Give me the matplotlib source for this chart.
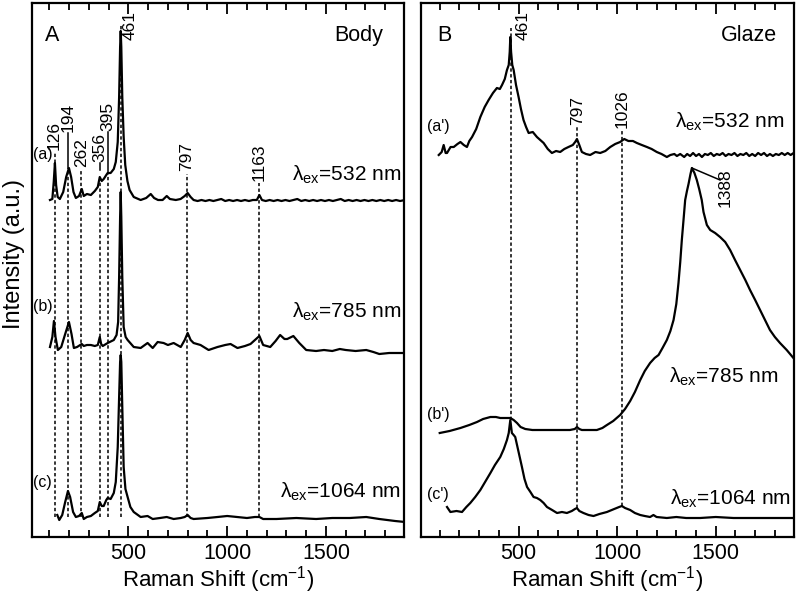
import matplotlib
matplotlib.use("Agg")
import matplotlib.pyplot as plt
from matplotlib.ticker import MultipleLocator

plt.rcParams['font.family'] = ['Liberation Sans', 'DejaVu Sans']
plt.rcParams['mathtext.fontset'] = 'custom'
plt.rcParams['mathtext.rm'] = 'Liberation Sans'
plt.rcParams['mathtext.it'] = 'Liberation Sans:italic'

# ---- panel A (body): Raman shift (cm-1), intensity (a.u., offset)
body_a_x = [103, 115, 122, 128, 134, 142, 153, 170, 185, 199, 210, 222, 234, 250, 264, 274, 290, 310,
            330, 345, 355, 365, 375, 388, 395, 410, 426, 436, 446, 453, 458, 461, 464, 469, 476, 484,
            495, 506, 527, 562, 590, 613, 630, 650, 673, 694, 710, 740, 764, 785, 800, 815, 830, 850,
            870, 890, 910, 930, 950, 970, 990, 1010, 1030, 1050, 1070, 1090, 1110, 1130, 1150, 1163,
            1176, 1195, 1215, 1235, 1255, 1275, 1295, 1315, 1335, 1355, 1375, 1395, 1415, 1435, 1455,
            1475, 1495, 1515, 1535, 1555, 1575, 1595, 1615, 1635, 1655, 1675, 1695, 1715, 1735, 1755,
            1775, 1795, 1815, 1835, 1855, 1875, 1900]
body_a_y = [337, 338, 355, 374, 352, 340, 338, 345, 360, 369, 360, 345, 339, 341, 348, 341, 343, 342,
            346, 350, 360, 356, 358, 362, 364, 364, 368, 375, 395, 440, 490, 506, 490, 440, 400, 372,
            356, 347, 340, 337, 339, 343, 339, 337, 337, 341, 338, 337, 338, 341, 344, 340, 337, 336,
            337, 336, 337, 336, 337, 338, 336, 337, 336, 337, 336, 337, 336, 337, 337, 342,
            337, 336, 337, 336, 337, 336, 337, 336, 337, 338, 336, 337, 336, 337, 336,
            337, 336, 337, 336, 337, 338, 336, 337, 336, 337, 336, 337, 336, 337, 336,
            337, 336, 337, 336, 337, 336, 337]

body_b_x = [103, 115, 123, 131, 143, 160, 180, 199, 212, 224, 240, 264, 274, 290, 310, 330, 345, 355,
            362, 370, 395, 426, 440, 448, 453, 458, 461, 464, 469, 476, 486, 496, 527, 562, 597, 623,
            648, 678, 700, 729, 765, 785, 800, 815, 830, 865, 906, 951, 990, 1017, 1052, 1090, 1118,
            1163, 1182, 1218, 1245, 1268, 1290, 1304, 1335, 1365, 1400, 1450, 1490, 1532, 1570, 1600,
            1650, 1704, 1740, 1770, 1820, 1871, 1900]
body_b_y = [190, 200, 216, 200, 187, 190, 203, 215, 203, 189, 190, 193, 191, 192, 192, 191, 192, 200,
            193, 191, 194, 197, 202, 215, 260, 320, 345, 320, 260, 210, 200, 197, 190, 189, 194, 189,
            195, 194, 192, 194, 190, 197, 204, 197, 194, 192, 187, 190, 192, 193, 189, 191, 193,
            201, 192, 190, 196, 202, 198, 198, 201, 194, 187, 186, 187, 186, 188, 187,
            186, 187, 185, 183, 184, 184, 184]

body_c_x = [140, 150, 165, 180, 194, 205, 220, 234, 250, 264, 274, 290, 310, 330, 345, 355, 365, 375,
            388, 395, 410, 426, 436, 446, 453, 458, 461, 464, 469, 476, 485, 496, 510, 527, 562, 597,
            623, 660, 694, 729, 765, 785, 800, 815, 830, 900, 951, 1000, 1050, 1100, 1140, 1163, 1182,
            1250, 1350, 1450, 1532, 1620, 1704, 1770, 1850, 1900]
body_c_y = [22, 17, 22, 35, 46, 40, 25, 20, 21, 24, 18, 20, 21, 24, 26, 35, 31, 31,
            37, 39, 38, 44, 55, 90, 140, 175, 182, 175, 130, 70, 48, 40, 30, 25, 20, 21,
            18, 19, 20, 18, 19, 20, 22, 19, 18, 19, 20, 21, 20, 19, 20, 20, 18,
            18, 19, 18, 19, 19, 20, 18, 16, 15]

body_peaks = [126, 194, 262, 356, 395, 461, 797, 1163]

# ---- panel B (glaze)
glaze_a_x = [95, 110, 120, 130, 137, 155, 171, 190, 205, 222, 238, 250, 264, 285, 306, 328, 348, 370,
             390, 405, 416, 430, 441, 450, 455, 458, 462, 468, 475, 487, 500, 512, 525, 538, 551, 572,
             593, 610, 627, 648, 669, 690, 711, 732, 753, 775, 787, 796, 808, 821, 842, 863, 890,
             914, 940, 965, 990, 1015, 1036, 1057, 1080, 1100, 1125, 1151, 1175, 1201, 1225, 1252,
             1270, 1290, 1303, 1320, 1340, 1355, 1370, 1385, 1400, 1415, 1430, 1445, 1460, 1475,
             1490, 1505, 1520, 1535, 1550, 1565, 1580, 1595, 1610, 1625, 1640, 1655, 1670, 1685,
             1700, 1715, 1730, 1745, 1760, 1775, 1790, 1805, 1820, 1835, 1850, 1865, 1880, 1895, 1911]
glaze_a_y = [382, 385, 392, 384, 384, 390, 390, 393, 395, 392, 390, 396, 400, 408, 420, 430, 437, 444,
             449, 448, 452, 458, 467, 472, 485, 500, 485, 472, 467, 452, 440, 428, 417, 410, 404, 405,
             400, 397, 394, 388, 384, 386, 385, 388, 390, 392, 395, 398, 392, 385, 383, 382, 385,
             384, 386, 390, 393, 395, 398, 396, 396, 394, 392, 390, 388, 385, 383, 380,
             382, 383, 381, 383, 380, 383, 381, 384, 381, 383, 380, 383, 382, 384,
             381, 383, 382, 384, 381, 383, 382, 384, 381, 383, 382, 384, 381, 383,
             381, 384, 382, 384, 381, 383, 381, 383, 382, 384, 382, 384, 382, 384, 384]

glaze_b_x = [100, 150, 205, 250, 289, 320, 357, 385, 407, 430, 458, 475, 492, 510, 534, 570, 610, 660,
             711, 760, 785, 796, 808, 821, 860, 897, 925, 948, 980, 1015, 1040, 1066, 1090, 1117, 1140,
             1167, 1190, 1210, 1230, 1252, 1270, 1286, 1300, 1311, 1320, 1328, 1337, 1345, 1354, 1362,
             1372, 1379, 1392, 1404, 1416, 1429, 1438, 1455, 1472, 1497, 1522, 1548, 1573, 1598,
             1624, 1650, 1674, 1700, 1725, 1750, 1775, 1800, 1826, 1860, 1894]
glaze_b_y = [104, 106, 109, 112, 115, 118, 120, 120, 119, 119, 119, 117, 114, 110, 108, 107, 107, 107,
             107, 107, 108, 110, 108, 107, 107, 107, 109, 112, 116, 122, 128, 136, 145, 157, 166,
             174, 179, 182, 189, 197, 206, 217, 233, 254, 275, 297, 318, 337, 346, 353,
             363, 369, 364, 357, 348, 337, 325, 312, 307, 304, 300, 295, 287, 277,
             267, 257, 247, 237, 227, 217, 207, 200, 194, 187, 179]

glaze_c_x = [137, 154, 185, 213, 235, 255, 280, 306, 330, 357, 380, 407, 425, 441, 450, 458, 466, 475,
             483, 500, 517, 530, 543, 560, 576, 593, 610, 627, 644, 670, 695, 720, 745, 770, 786, 796,
             808, 829, 855, 880, 910, 948, 985, 1010, 1024, 1040, 1066, 1090, 1117, 1140, 1167, 1184,
             1200, 1252, 1300, 1350, 1421, 1500, 1590, 1700, 1800, 1902]
glaze_c_y = [30, 25, 26, 25, 30, 34, 40, 47, 55, 64, 72, 80, 88, 97, 104, 117, 104, 102,
             100, 85, 70, 58, 50, 45, 40, 39, 37, 34, 30, 27, 24, 25, 24, 26, 28, 29,
             26, 24, 22, 21, 23, 25, 28, 30, 31, 29, 27, 24, 22, 21, 20, 22,
             20, 19, 20, 19, 19, 20, 19, 19, 19, 19]

glaze_peaks = [461, 797, 1026]
glaze_big_peak = 1388

lw_curve = 1.6
dash = (0, (2.2, 1.6))


def style_axes(ax):
    ax.set_xlim(12, 1895)
    ax.set_ylim(0, 534)
    ax.set_yticks([])
    ax.xaxis.set_major_locator(MultipleLocator(500))
    ax.xaxis.set_minor_locator(MultipleLocator(100))
    ax.tick_params(axis='x', which='both', direction='in', top=True, bottom=True,
                   width=1.3, labelsize=15.5, pad=4)
    ax.tick_params(axis='x', which='major', length=8)
    ax.tick_params(axis='x', which='minor', length=5)
    for s in ax.spines.values():
        s.set_linewidth(1.6)
    ax.set_xlabel("Raman Shift (cm$^{-1}$)", fontsize=16)
    ax.xaxis.set_label_coords(0.5, -0.05)


fig = plt.figure(figsize=(7.96, 5.95), dpi=100)
axA = fig.add_axes([32 / 796, 58 / 595, 372 / 796, 534 / 595])
axB = fig.add_axes([421 / 796, 58 / 595, 373 / 796, 534 / 595])

# ---------------- panel A
style_axes(axA)
axA.set_ylabel("Intensity (a.u.)", fontsize=17)
axA.yaxis.set_label_coords(-0.018, 0.53)

tops = {126: 385, 194: 369, 262: 368, 356: 360, 395: 364, 461: 512, 797: 363, 1163: 354}
for p in body_peaks:
    axA.vlines(p, 20, tops[p], colors='k', linestyles=dash, lw=1.1, zorder=1)
# solid leaders
axA.plot([194, 194], [369, 404], color='k', lw=1.1)
axA.plot([395, 395], [364, 405], color='k', lw=1.1)
axA.plot([356, 356], [367, 374], color='k', lw=1.1)

for xs, ys in [(body_a_x, body_a_y), (body_b_x, body_b_y), (body_c_x, body_c_y)]:
    axA.plot(xs, ys, color='k', lw=lw_curve, zorder=3)

lab_bottom = {126: 387, 194: 405, 262: 370, 356: 375, 395: 406, 797: 366, 1163: 356}
for p, yb in lab_bottom.items():
    axA.text(p, yb, str(p), rotation=90, ha='center', va='bottom', fontsize=12.5)
axA.text(510, 497, "461", rotation=90, ha='center', va='bottom', fontsize=12.5)

axA.text(67, 382, "(a)", ha='center', va='center', fontsize=11.5)
axA.text(67, 230, "(b)", ha='center', va='center', fontsize=11.5)
axA.text(67, 54, "(c)", ha='center', va='center', fontsize=11.5)
axA.text(1880, 362, r"λ$_{\mathrm{ex}}$=532 nm", ha='right', va='center', fontsize=15)
axA.text(1880, 225, r"λ$_{\mathrm{ex}}$=785 nm", ha='right', va='center', fontsize=15)
axA.text(1880, 45, r"λ$_{\mathrm{ex}}$=1064 nm", ha='right', va='center', fontsize=15)
axA.text(0.035, 0.94, "A", transform=axA.transAxes, ha='left', va='center', fontsize=15.5)
axA.text(0.944, 0.94, "Body", transform=axA.transAxes, ha='right', va='center', fontsize=15.5)

# ---------------- panel B
style_axes(axB)
axB.set_xlim(5, 1897)
tops_b = {461: 509, 797: 410, 1026: 407}
bots_b = {461: 117, 797: 29, 1026: 31}
for p in glaze_peaks:
    axB.vlines(p, bots_b[p], tops_b[p], colors='k', linestyles=dash, lw=1.1, zorder=1)

for xs, ys in [(glaze_a_x, glaze_a_y), (glaze_b_x, glaze_b_y), (glaze_c_x, glaze_c_y)]:
    axB.plot(xs, ys, color='k', lw=lw_curve, zorder=3)

axB.text(487, 497, "461", rotation=90, ha='left', va='bottom', fontsize=12.5)
axB.text(797, 412, "797", rotation=90, ha='center', va='bottom', fontsize=12.5)
axB.text(1026, 409, "1026", rotation=90, ha='center', va='bottom', fontsize=12.5)
axB.plot([1379, 1522], [369, 357], color='k', lw=1.1)
axB.text(1547, 369, str(glaze_big_peak), rotation=90, ha='center', va='top', fontsize=12.5)

axB.text(93, 410, "(a')", ha='center', va='center', fontsize=11.5)
axB.text(93, 122, "(b')", ha='center', va='center', fontsize=11.5)
axB.text(93, 42, "(c')", ha='center', va='center', fontsize=11.5)
axB.text(1845, 415, r"λ$_{\mathrm{ex}}$=532 nm", ha='right', va='center', fontsize=15)
axB.text(1818, 160, r"λ$_{\mathrm{ex}}$=785 nm", ha='right', va='center', fontsize=15)
axB.text(1880, 38, r"λ$_{\mathrm{ex}}$=1064 nm", ha='right', va='center', fontsize=15)
axB.text(0.044, 0.94, "B", transform=axB.transAxes, ha='left', va='center', fontsize=15.5)
axB.text(0.955, 0.94, "Glaze", transform=axB.transAxes, ha='right', va='center', fontsize=15.5)

fig.savefig("out.png", dpi=100)
